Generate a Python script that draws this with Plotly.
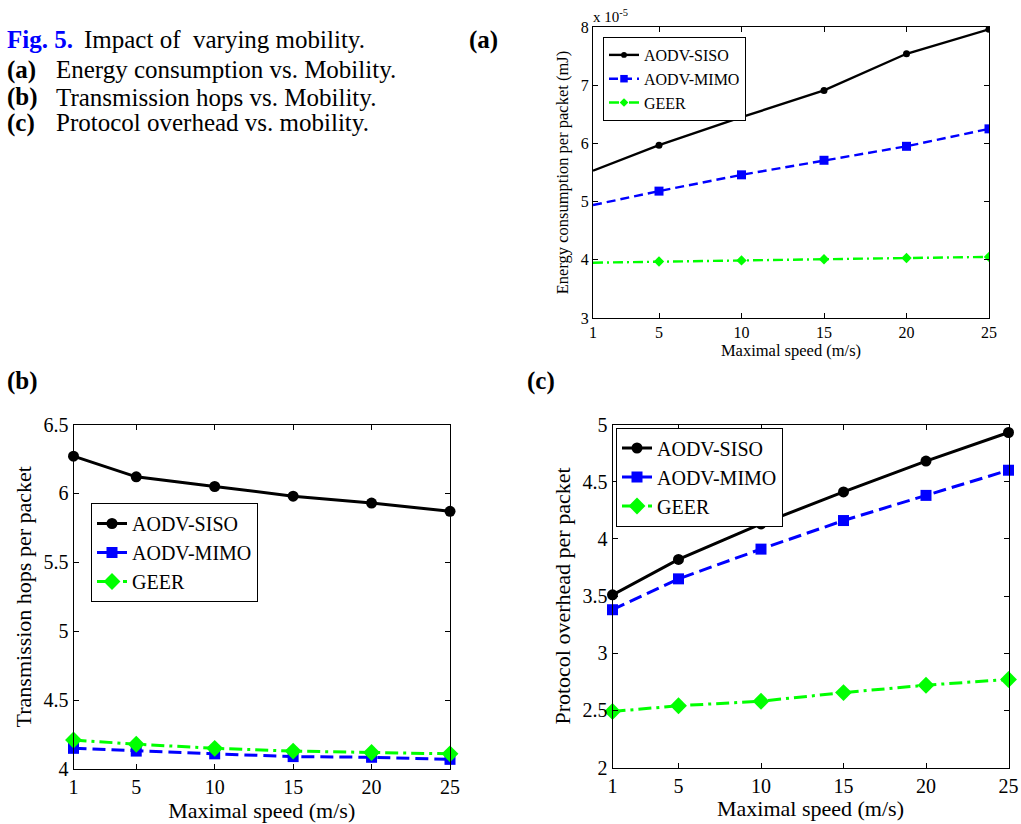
import plotly.graph_objects as go

# ---------------- data ----------------
speed = [1, 5, 10, 15, 20, 25]
series_names = ["AODV-SISO", "AODV-MIMO", "GEER"]

# (a) Energy consumption per packet (x 1e-5 mJ)
energy_siso = [5.53, 5.97, 6.45, 6.91, 7.54, 7.96]
energy_mimo = [4.94, 5.18, 5.46, 5.71, 5.95, 6.25]
energy_geer = [3.95, 3.97, 3.99, 4.01, 4.03, 4.05]

# (b) Transmission hops per packet
hops_siso = [6.27, 6.12, 6.05, 5.98, 5.93, 5.87]
hops_mimo = [4.15, 4.13, 4.11, 4.09, 4.085, 4.07]
hops_geer = [4.21, 4.18, 4.15, 4.13, 4.12, 4.11]

# (c) Protocol overhead per packet
ovh_siso = [3.51, 3.82, 4.13, 4.41, 4.68, 4.93]
ovh_mimo = [3.38, 3.65, 3.91, 4.16, 4.38, 4.60]
ovh_geer = [2.49, 2.54, 2.58, 2.655, 2.72, 2.77]

x_ticks = [1, 5, 10, 15, 20, 25]
a_yticks = [3, 4, 5, 6, 7, 8]
b_yticks = [4, 4.5, 5, 5.5, 6, 6.5]
b_yticklabels = ["4", "4.5", "5", "5.5", "6", "6.5"]
c_yticks = [2, 2.5, 3, 3.5, 4, 4.5, 5]
c_yticklabels = ["2", "2.5", "3", "3.5", "4", "4.5", "5"]

# --------------- styles ---------------
FONT = "Liberation Serif"
W, H = 1021, 824
colors = ["#000000", "#0000FF", "#00FF00"]
symbols = ["circle", "square", "diamond"]

def px_x(p):
    return p / W

def px_y(p):
    return 1 - p / H

fig = go.Figure()

def add_panel(values, xa, ya, legend, lw, msizes, dashes, hide_first=False, clip=True):
    for name, vals, col, sym, ms, dash in zip(series_names, values, colors, symbols, msizes, dashes):
        sizes = [ms] * len(speed)
        if hide_first:
            sizes[0] = 0
        fig.add_trace(go.Scatter(
            x=speed, y=vals, name=name, mode="lines+markers",
            xaxis=xa, yaxis=ya, legend=legend, cliponaxis=clip,
            line=dict(color=col, width=lw, dash=dash),
            marker=dict(color=col, symbol=sym, size=sizes, opacity=1,
                        line=dict(width=0, color=col)),
        ))

add_panel([energy_siso, energy_mimo, energy_geer], "x", "y", "legend", 2.4,
          [7, 9, 8], ["solid", "9px,5px", "10px,4px,2px,4px"], hide_first=True, clip=True)
add_panel([hops_siso, hops_mimo, hops_geer], "x2", "y2", "legend2", 3,
          [11, 11, 13], ["solid", "13px,6px", "13px,5px,3px,5px"], clip=False)
add_panel([ovh_siso, ovh_mimo, ovh_geer], "x3", "y3", "legend3", 3,
          [11, 11, 13], ["solid", "13px,6px", "13px,5px,3px,5px"], clip=False)

def axis_common(tick_size, title_size):
    return dict(
        showline=True, linecolor="black", linewidth=1, mirror="ticks",
        ticks="inside", ticklen=5, tickcolor="black", tickwidth=1,
        showgrid=False, zeroline=False, automargin=False,
        tickfont=dict(family=FONT, size=tick_size, color="black"),
        title_font=dict(family=FONT, size=title_size, color="black"),
    )

# Panel domains (pixel-measured)
a_dom_x = [px_x(593), px_x(989)]
a_dom_y = [px_y(318), px_y(27)]
b_dom_x = [px_x(73.5), px_x(450)]
b_dom_y = [px_y(769), px_y(424.5)]
c_dom_x = [px_x(612.5), px_x(1008.5)]
c_dom_y = [px_y(767.5), px_y(424.5)]

legend_common = dict(xanchor="left", yanchor="top", bgcolor="white",
                     bordercolor="black", borderwidth=1, tracegroupgap=0)

fig.update_layout(
    width=W, height=H, margin=dict(l=0, r=0, t=0, b=0),
    paper_bgcolor="white", plot_bgcolor="white",
    font=dict(family=FONT, color="black"),
    xaxis=dict(**axis_common(16, 16.5), domain=a_dom_x, anchor="y", range=[1, 25],
               tickvals=x_ticks, title=dict(text="Maximal speed (m/s)", standoff=1)),
    yaxis=dict(**axis_common(16, 16.5), domain=a_dom_y, anchor="x", range=[3, 8],
               tickvals=a_yticks, title=dict(text="Energy consumption per packet (mJ)", standoff=8)),
    xaxis2=dict(**axis_common(20, 22), domain=b_dom_x, anchor="y2", range=[1, 25],
                tickvals=x_ticks, title=dict(text="Maximal speed (m/s)", standoff=1)),
    yaxis2=dict(**axis_common(20, 22), domain=b_dom_y, anchor="x2", range=[4, 6.5],
                tickvals=b_yticks, ticktext=b_yticklabels,
                title=dict(text="Transmission hops per packet", standoff=5)),
    xaxis3=dict(**axis_common(20, 22), domain=c_dom_x, anchor="y3", range=[1, 25],
                tickvals=x_ticks, title=dict(text="Maximal speed (m/s)", standoff=1)),
    yaxis3=dict(**axis_common(20, 22), domain=c_dom_y, anchor="x3", range=[2, 5],
                tickvals=c_yticks, ticktext=c_yticklabels,
                title=dict(text="Protocol overhead per packet", standoff=5)),
    legend=dict(**legend_common, x=px_x(603), y=px_y(37),
                font=dict(family=FONT, size=16, color="black")),
    legend2=dict(**legend_common, x=px_x(91), y=px_y(503),
                 font=dict(family=FONT, size=20, color="black")),
    legend3=dict(**legend_common, x=px_x(616), y=px_y(427.5),
                 font=dict(family=FONT, size=20, color="black")),
    showlegend=True,
)

def note(text, x, y, size, bold=False, color="black", xanchor="left", yanchor="middle"):
    fig.add_annotation(
        text=f"<b>{text}</b>" if bold else text,
        x=px_x(x), y=px_y(y), xref="paper", yref="paper",
        xanchor=xanchor, yanchor=yanchor, showarrow=False,
        font=dict(family=FONT, size=size, color=color),
    )

CAP = 25
# Caption
note("Fig. 5.", 5, 40, CAP, bold=True, color="#0000FF")
note("Impact of  varying mobility.", 82, 40, CAP)
note("(a)", 5, 70, CAP, bold=True)
note("Energy consumption vs. Mobility.", 54, 70, CAP)
note("(b)", 5, 97, CAP, bold=True)
note("Transmission hops vs. Mobility.", 54, 97, CAP)
note("(c)", 5, 123, CAP, bold=True)
note("Protocol overhead vs. mobility.", 54, 123, CAP)
note("(a)", 467, 40, CAP, bold=True)

# Panel labels
note("(b)", 5, 381, CAP, bold=True)
note("(c)", 525, 381, CAP, bold=True)

# Exponent label for panel (a)
note("x 10<sup>-5</sup>", 591, 16, 15)

fig.write_html("out.html", config={"displayModeBar": False},
               post_script="document.body.style.margin='0px';")
